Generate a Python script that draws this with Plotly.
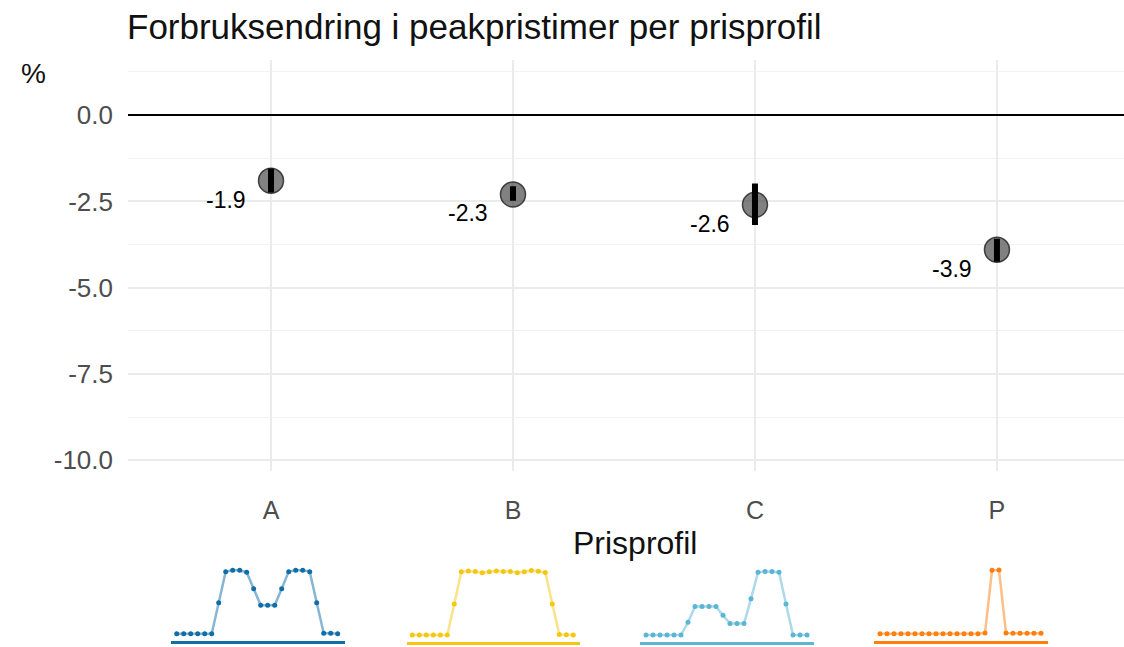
import plotly.graph_objects as go

# ---- data ----
categories = ["A", "B", "C", "P"]
estimates = [-1.9, -2.3, -2.6, -3.9]
ci_low = [-2.24, -2.48, -3.18, -4.25]
ci_high = [-1.55, -2.06, -1.98, -3.58]
y_ticks = [0.0, -2.5, -5.0, -7.5, -10.0]
y_tick_labels = ["0.0", "-2.5", "-5.0", "-7.5", "-10.0"]

hours = list(range(24))
profile_A = [0, 0, 0, 0, 0, 0, 0.49, 0.98, 1.0, 1.0, 0.97, 0.71, 0.45, 0.45, 0.45,
             0.71, 0.98, 1.0, 1.0, 0.98, 0.49, 0.01, 0.01, 0]
profile_B = [0, 0, 0, 0, 0, 0, 0.49, 0.995, 1.01, 1.0, 0.98, 0.995, 1.01, 1.0, 1.0,
             0.98, 0.995, 1.015, 1.005, 0.985, 0.49, 0.01, 0.005, 0]
profile_C = [0, 0, 0, 0, 0, 0, 0.2, 0.45, 0.45, 0.45, 0.45, 0.31, 0.18, 0.18, 0.18,
             0.57, 0.99, 1.0, 1.0, 0.99, 0.49, 0, 0, 0]
profile_P = [0, 0, 0, 0, 0, 0, 0, 0, 0, 0, 0, 0, 0, 0, 0, 0.015,
             1.0, 1.005, 0.015, 0.01, 0.01, 0.01, 0.01, 0.01]
profiles = [profile_A, profile_B, profile_C, profile_P]
profile_colors = ["#0F6EA8", "#F5C710", "#5BB5D5", "#FF7F0E"]
profile_line_colors = ["rgba(15,110,168,0.5)", "rgba(245,199,16,0.5)",
                       "rgba(91,181,213,0.5)", "rgba(255,127,14,0.5)"]

W, H = 1124, 647
FONT = "Liberation Sans, Arial, Helvetica, sans-serif"

def px_x(p):
    return p / W

def px_y(p):
    return (H - p) / H

fig = go.Figure()

# points
fig.add_trace(go.Scatter(
    x=categories, y=estimates, mode="markers",
    marker=dict(size=25, color="rgba(64,64,64,0.66)",
                line=dict(width=1.5, color="rgba(40,40,40,0.85)")),
    showlegend=False, hoverinfo="skip", xaxis="x", yaxis="y"))

# error bars on top
fig.add_trace(go.Scatter(
    x=categories, y=estimates, mode="markers",
    marker=dict(size=1, color="rgba(0,0,0,0)"),
    error_y=dict(type="data", symmetric=False,
                 array=[h - e for h, e in zip(ci_high, estimates)],
                 arrayminus=[e - l for e, l in zip(estimates, ci_low)],
                 thickness=6, width=0, color="black"),
    showlegend=False, hoverinfo="skip", xaxis="x", yaxis="y"))

annotations = []
for c, v in zip(categories, estimates):
    annotations.append(dict(x=c, y=v, xref="x", yref="y", text=f"{v:.1f}",
                            showarrow=False, xshift=-45, yshift=-19,
                            font=dict(size=23, color="black", family=FONT)))

# title, y label, x title
annotations.append(dict(x=px_x(125), y=px_y(27), xref="paper", yref="paper",
                        xanchor="left", yanchor="middle", showarrow=False,
                        text="Forbruksendring i peakpristimer per prisprofil",
                        font=dict(size=35, color="#111111", family=FONT)))
annotations.append(dict(x=px_x(33), y=px_y(74), xref="paper", yref="paper",
                        xanchor="center", yanchor="middle", showarrow=False,
                        text="%", font=dict(size=28, color="#111111", family=FONT)))
annotations.append(dict(x=px_x(635), y=px_y(547), xref="paper", yref="paper",
                        xanchor="center", yanchor="middle", showarrow=False,
                        text="Prisprofil", font=dict(size=32, color="#111111", family=FONT)))

layout = dict(
    width=W, height=H,
    margin=dict(l=0, r=0, t=0, b=0),
    paper_bgcolor="white", plot_bgcolor="white",
    showlegend=False,
    font=dict(family=FONT),
    annotations=annotations,
    xaxis=dict(domain=[px_x(128), 1.0], type="category", categoryorder="array",
               categoryarray=categories, range=[-0.591, 3.525],
               showgrid=True, gridcolor="#EBEBEB", gridwidth=1.8,
               zeroline=False, showline=False, ticks="",
               tickfont=dict(size=25, color="#4D4D4D", family=FONT),
               ticklabelstandoff=22, fixedrange=True),
    yaxis=dict(domain=[px_y(474.4), px_y(60.3)], range=[-10.3, 1.6],
               tickmode="array", tickvals=y_ticks, ticktext=y_tick_labels,
               showgrid=True, gridcolor="#EBEBEB", gridwidth=1.8,
               minor=dict(tickvals=[1.25, -1.25, -3.75, -6.25, -8.75],
                          showgrid=True, gridcolor="#F2F2F2", gridwidth=1.0),
               zeroline=True, zerolinecolor="black", zerolinewidth=2,
               showline=False, ticks="",
               tickfont=dict(size=26, color="#4D4D4D", family=FONT),
               ticklabelstandoff=14, fixedrange=True),
)

# mini profile charts
mini_left = [171.1, 406.7, 640.4, 874.4]
mini_bottom = [645.8, 647.0, 647.0, 645.8]
mini_w = 173.6
mini_h = 77.4
for i, (vals, col, lcol) in enumerate(zip(profiles, profile_colors, profile_line_colors)):
    n = i + 2
    xa, ya = f"x{n}", f"y{n}"
    fig.add_trace(go.Scatter(
        x=hours, y=vals, mode="lines+markers",
        line=dict(color=lcol, width=2.5),
        marker=dict(color=col, size=5),
        showlegend=False, hoverinfo="skip", xaxis=xa, yaxis=ya))
    layout[f"xaxis{n}"] = dict(
        domain=[px_x(mini_left[i]), px_x(mini_left[i] + mini_w)],
        range=[-0.8, 24.0], anchor=ya, showgrid=False, zeroline=False,
        showticklabels=False, ticks="", showline=True, linecolor=col,
        linewidth=3, fixedrange=True)
    layout[f"yaxis{n}"] = dict(
        domain=[px_y(mini_bottom[i]), px_y(mini_bottom[i] - mini_h)],
        range=[-0.11, 1.1], anchor=xa, showgrid=False, zeroline=False,
        showticklabels=False, ticks="", showline=False, fixedrange=True)

fig.update_layout(**layout)
fig.write_html("out.html",
               config={"displayModeBar": False},
               post_script="document.body.style.margin='0';document.body.style.overflow='hidden';")
